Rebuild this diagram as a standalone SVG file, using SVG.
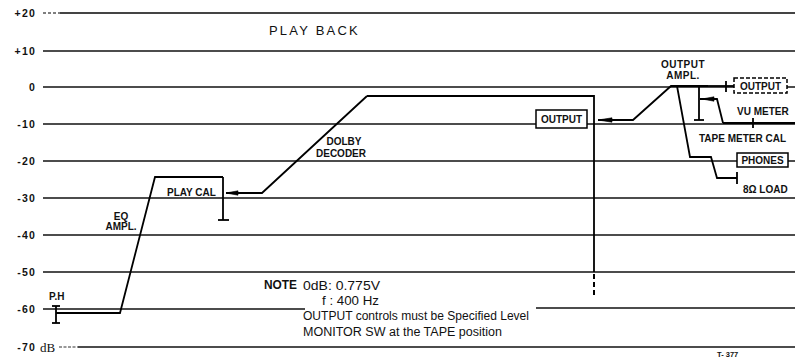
<svg xmlns="http://www.w3.org/2000/svg" width="795" height="358" viewBox="0 0 795 358">
<defs>
<style>
.grid{stroke:#111;stroke-width:1.3;fill:none}
.tr{stroke:#000;stroke-width:1.8;fill:none;stroke-linejoin:miter}
.ah{fill:#000;stroke:#000;stroke-width:0.6}
.ax{font-family:"Liberation Sans",Arial,sans-serif;font-weight:bold;font-size:10.5px;letter-spacing:1.2px;fill:#111}
.lb{font-family:"Liberation Sans",Arial,sans-serif;font-weight:bold;font-size:10px;fill:#111}
.nt{font-family:"Liberation Sans Narrow","Liberation Sans",Arial,sans-serif;font-size:12px;fill:#111}
.box{fill:#fff;stroke:#000;stroke-width:1.5}
</style>
</defs>
<rect width="795" height="358" fill="#fff"/>

<g id="grid">
<line x1="43" y1="13" x2="60" y2="13" stroke="#555" stroke-width="1.5" stroke-dasharray="3,2"/>
<line x1="60" y1="13" x2="795" y2="13" stroke="#444" stroke-width="2"/>
<line class="grid" x1="43" y1="51" x2="795" y2="51"/>
<line class="grid" x1="43" y1="87" x2="795" y2="87"/>
<line class="grid" x1="43" y1="124" x2="795" y2="124"/>
<line class="grid" x1="43" y1="161" x2="795" y2="161"/>
<line class="grid" x1="43" y1="198" x2="795" y2="198"/>
<line class="grid" x1="43" y1="235" x2="795" y2="235"/>
<line class="grid" x1="43" y1="272" x2="795" y2="272"/>
<line class="grid" x1="43" y1="309" x2="305" y2="309"/>
<line class="grid" x1="536" y1="308" x2="795" y2="308"/>
<line x1="59" y1="347" x2="78" y2="347" stroke="#333" stroke-width="1.2" stroke-dasharray="3,1.5"/>
<line class="grid" x1="78" y1="347" x2="795" y2="347"/>
</g>

<g id="axis-labels">
<text class="ax" x="36" y="17" text-anchor="end">+20</text>
<text class="ax" x="36" y="55" text-anchor="end">+10</text>
<text class="ax" x="36" y="91" text-anchor="end">0</text>
<text class="ax" x="36" y="128" text-anchor="end">-10</text>
<text class="ax" x="36" y="165" text-anchor="end">-20</text>
<text class="ax" x="36" y="202" text-anchor="end">-30</text>
<text class="ax" x="36" y="239" text-anchor="end">-40</text>
<text class="ax" x="36" y="276" text-anchor="end">-50</text>
<text class="ax" x="36" y="313" text-anchor="end">-60</text>
<text class="ax" x="36" y="351" text-anchor="end">-70</text>
<text x="40" y="352" font-family="'Liberation Serif',serif" font-size="13px" fill="#111">dB</text>
</g>

<g id="title">
<text x="269" y="35" font-family="'Liberation Sans',Arial,sans-serif" font-size="13px" letter-spacing="2.2px" fill="#111">PLAY BACK</text>
</g>

<g id="connectors">
<polyline class="tr" points="56,313 120,313 155,177 223,177"/>
<line class="tr" x1="223" y1="177" x2="223" y2="220"/>
<line class="tr" x1="218" y1="220" x2="229" y2="220"/>
<polyline class="tr" points="367,96 262,193 226,193"/>
<polygon class="ah" points="226,193 238,190.8 238,195.2"/>
<polyline class="tr" points="367,96 594,96 594,272"/>
<line x1="594" y1="274" x2="594" y2="297" stroke="#000" stroke-width="2" stroke-dasharray="5,3"/>
<polyline class="tr" points="708,86 671,86 633,120 598,120"/>
<polygon class="ah" points="598,120 612,117.8 612,122.2"/>
<line class="tr" x1="708" y1="86" x2="734" y2="86"/>
<line class="tr" x1="726" y1="81" x2="726" y2="92"/>
<line class="tr" x1="699" y1="86" x2="699" y2="120"/>
<line class="tr" x1="694" y1="120" x2="704" y2="120"/>
<polyline class="tr" points="723,123 717,99 700,99"/>
<polygon class="ah" points="702,99 714,96.8 714,101.2"/>
<line class="tr" x1="723" y1="123" x2="795" y2="123"/>
<line class="tr" x1="753" y1="118" x2="753" y2="128"/>
<polyline class="tr" points="677,86 690,157 711,157 717,178 737,178"/>
<line class="tr" x1="737" y1="172" x2="737" y2="184"/>
<line class="tr" x1="56" y1="306" x2="56" y2="323"/>
<line class="tr" x1="52" y1="306" x2="60" y2="306"/>
<line class="tr" x1="52" y1="323" x2="60" y2="323"/>
</g>

<g id="ph"><text class="lb" x="49" y="300">P.H</text></g>
<g id="eq-ampl">
<text class="lb" x="121" y="220" text-anchor="middle">EQ</text>
<text class="lb" x="121" y="230" text-anchor="middle">AMPL.</text>
</g>
<g id="play-cal"><text class="lb" x="167" y="196">PLAY CAL</text></g>
<g id="dolby-decoder">
<text class="lb" x="344" y="145" text-anchor="middle">DOLBY</text>
<text class="lb" x="341" y="157" text-anchor="middle">DECODER</text>
</g>
<g id="output">
<rect class="box" x="536" y="110" width="51" height="18"/>
<text class="lb" x="561.5" y="123" text-anchor="middle">OUTPUT</text>
</g>
<g id="output-ampl">
<text class="lb" x="683" y="68" text-anchor="middle" font-size="9.5px" letter-spacing="0.5px">OUTPUT</text>
<text class="lb" x="683" y="79" text-anchor="middle" font-size="9.5px" letter-spacing="0.5px">AMPL.</text>
</g>
<g id="output-dashed">
<rect x="734" y="78" width="53" height="15" fill="#fff" stroke="#000" stroke-width="1.5" stroke-dasharray="4,2"/>
<text class="lb" x="760.5" y="90" text-anchor="middle">OUTPUT</text>
</g>
<g id="vu-meter"><text class="lb" x="737" y="115" font-size="10.5px">VU METER</text></g>
<g id="tape-meter-cal"><text class="lb" x="699" y="142">TAPE METER CAL</text></g>
<g id="phones">
<rect class="box" x="737" y="153" width="51" height="14"/>
<text class="lb" x="762.5" y="164" text-anchor="middle">PHONES</text>
</g>
<g id="load"><text class="lb" x="743" y="193">8Ω LOAD</text></g>

<g id="note">
<text x="264" y="289" font-family="'Liberation Sans Narrow','Liberation Sans',Arial,sans-serif" font-weight="bold" font-size="12.5px" textLength="33" lengthAdjust="spacingAndGlyphs" fill="#111">NOTE</text>
<text class="nt" x="303" y="290" textLength="77" lengthAdjust="spacingAndGlyphs">0dB:  0.775V</text>
<text class="nt" x="322" y="305" textLength="57" lengthAdjust="spacingAndGlyphs">f :  400 Hz</text>
<text class="nt" x="303" y="320" textLength="226" lengthAdjust="spacingAndGlyphs">OUTPUT controls must be Specified Level</text>
<text class="nt" x="303" y="336" textLength="199" lengthAdjust="spacingAndGlyphs">MONITOR SW at the TAPE position</text>
</g>
<g id="code"><text x="717" y="357" font-family="'Liberation Sans',Arial,sans-serif" font-weight="bold" font-size="7.5px" fill="#111">T- 377</text></g>
</svg>
